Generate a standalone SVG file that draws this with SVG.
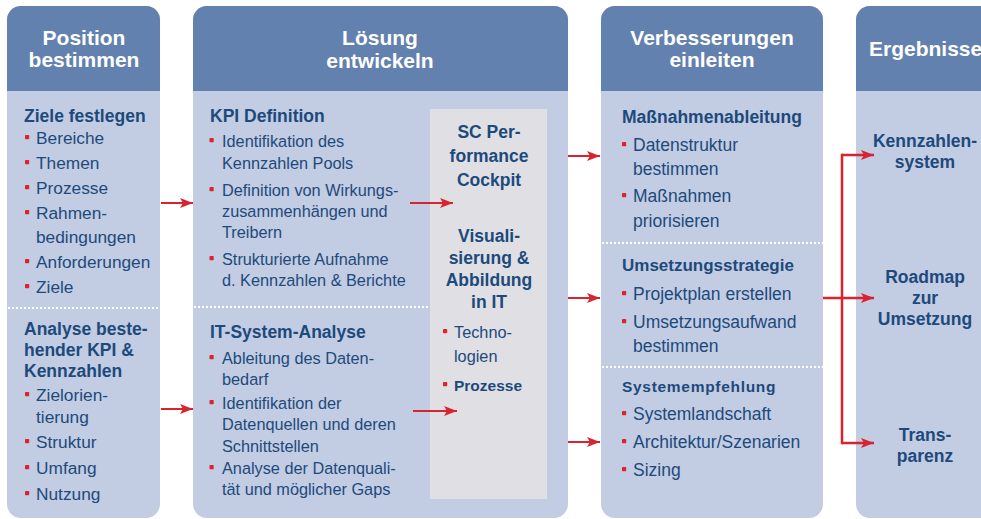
<svg xmlns="http://www.w3.org/2000/svg" width="981" height="519" viewBox="0 0 981 519">
  <style>
    .col { fill: #c2cce2; }
    .head { fill: #6281ae; }
    .grey { fill: #e0e0e4; }
    .sep { stroke: #ffffff; stroke-width: 2; stroke-dasharray: 2 2; fill: none; }
    .ht { font-family: "Liberation Sans", Arial, sans-serif; font-weight: bold; font-size: 21px; fill: #ffffff; text-anchor: middle; }
    .hd { font-family: "Liberation Sans", Arial, sans-serif; font-weight: bold; font-size: 17.5px; fill: #1d4a7c; }
    .hc { font-family: "Liberation Sans", Arial, sans-serif; font-weight: bold; font-size: 17.5px; fill: #1d4a7c; text-anchor: middle; }
    .t1 { font-family: "Liberation Sans", Arial, sans-serif; font-size: 17.3px; fill: #1d4a7c; }
    .t2 { font-family: "Liberation Sans", Arial, sans-serif; font-size: 16.3px; fill: #1d4a7c; }
    .t3 { font-family: "Liberation Sans", Arial, sans-serif; font-size: 17.5px; fill: #1d4a7c; }
    .bul { fill: #e0202c; }
    .arr { stroke: #d9232e; stroke-width: 2; fill: none; }
    .brk { stroke: #d9232e; stroke-width: 2.5; fill: none; }
  </style>
  <defs>
    <rect id="b" class="bul" x="-2" y="-2" width="4.2" height="4.2" rx="0.8"/>
    <marker id="ah" markerUnits="userSpaceOnUse" markerWidth="14" markerHeight="12" refX="13" refY="5" orient="auto">
      <path d="M0,0 L13,5 L0,10 L3,5 Z" fill="#d9232e"/>
    </marker>
  </defs>

  <!-- Column 1: Position bestimmen -->
  <g id="col-position">
    <rect class="col" x="7" y="6" width="153" height="512" rx="14"/>
    <path class="head" d="M7,91 V20 A14,14 0 0 1 21,6 H146 A14,14 0 0 1 160,20 V91 Z"/>
    <text class="ht" x="84" y="45">Position</text>
    <text class="ht" x="84" y="67">bestimmen</text>
    <line class="sep" x1="8" y1="308" x2="160" y2="308"/>
    <text class="hd" x="24" y="122">Ziele festlegen</text>
    <use href="#b" x="27" y="137"/><text class="t1" x="36" y="144">Bereiche</text>
    <use href="#b" x="27" y="162"/><text class="t1" x="36" y="169">Themen</text>
    <use href="#b" x="27" y="187"/><text class="t1" x="36" y="194">Prozesse</text>
    <use href="#b" x="27" y="212"/><text class="t1" x="36" y="219">Rahmen-</text>
    <text class="t1" x="36" y="243">bedingungen</text>
    <use href="#b" x="27" y="261"/><text class="t1" x="36" y="268">Anforderungen</text>
    <use href="#b" x="27" y="286"/><text class="t1" x="36" y="293">Ziele</text>
    <text class="hd" x="24" y="335">Analyse beste-</text>
    <text class="hd" x="24" y="356">hender KPI &amp;</text>
    <text class="hd" x="24" y="377">Kennzahlen</text>
    <use href="#b" x="27" y="394"/><text class="t1" x="36" y="401">Zielorien-</text>
    <text class="t1" x="36" y="423">tierung</text>
    <use href="#b" x="27" y="441"/><text class="t1" x="36" y="448">Struktur</text>
    <use href="#b" x="27" y="467"/><text class="t1" x="36" y="474">Umfang</text>
    <use href="#b" x="27" y="493"/><text class="t1" x="36" y="500">Nutzung</text>
  </g>

  <!-- Column 2: Lösung entwickeln -->
  <g id="col-loesung">
    <rect class="col" x="193" y="6" width="375" height="512" rx="14"/>
    <path class="head" d="M193,91 V20 A14,14 0 0 1 207,6 H554 A14,14 0 0 1 568,20 V91 Z"/>
    <text class="ht" x="380" y="45">Lösung</text>
    <text class="ht" x="380" y="68">entwickeln</text>
    <line class="sep" x1="194" y1="307" x2="430" y2="307"/>
    <text class="hd" x="210" y="122">KPI Definition</text>
    <use href="#b" x="211.5" y="140"/><text class="t2" x="222" y="147">Identifikation des</text>
    <text class="t2" x="222" y="169">Kennzahlen Pools</text>
    <use href="#b" x="211.5" y="189"/><text class="t2" x="222" y="196">Definition von Wirkungs-</text>
    <text class="t2" x="222" y="217">zusammenhängen und</text>
    <text class="t2" x="222" y="238">Treibern</text>
    <use href="#b" x="211.5" y="258"/><text class="t2" x="222" y="265">Strukturierte Aufnahme</text>
    <text class="t2" x="222" y="286">d. Kennzahlen &amp; Berichte</text>
    <text class="hd" x="210" y="338">IT-System-Analyse</text>
    <use href="#b" x="211.5" y="357"/><text class="t2" x="222" y="364">Ableitung des Daten-</text>
    <text class="t2" x="222" y="385">bedarf</text>
    <use href="#b" x="211.5" y="402"/><text class="t2" x="222" y="409">Identifikation der</text>
    <text class="t2" x="222" y="430">Datenquellen und deren</text>
    <text class="t2" x="222" y="452">Schnittstellen</text>
    <use href="#b" x="211.5" y="467"/><text class="t2" x="222" y="474">Analyse der Datenquali-</text>
    <text class="t2" x="222" y="495">tät und möglicher Gaps</text>
  </g>

  <!-- Cockpit panel inside column 2 -->
  <g id="cockpit">
    <rect class="grey" x="430" y="109" width="117" height="390"/>
    <text class="hc" x="489" y="138">SC Per-</text>
    <text class="hc" x="489" y="162">formance</text>
    <text class="hc" x="489" y="186">Cockpit</text>
    <text class="hc" x="489" y="242">Visuali-</text>
    <text class="hc" x="489" y="264">sierung &amp;</text>
    <text class="hc" x="489" y="286">Abbildung</text>
    <text class="hc" x="489" y="308">in IT</text>
    <use href="#b" x="445" y="331"/><text class="t2" x="454" y="338">Techno-</text>
    <text class="t2" x="454" y="362">logien</text>
    <use href="#b" x="445" y="384"/><text class="t2" x="454" y="391" style="font-weight:bold;font-size:15.5px">Prozesse</text>
  </g>

  <!-- Column 3: Verbesserungen einleiten -->
  <g id="col-verbesserungen">
    <rect class="col" x="601" y="6" width="222" height="512" rx="14"/>
    <path class="head" d="M601,91 V20 A14,14 0 0 1 615,6 H809 A14,14 0 0 1 823,20 V91 Z"/>
    <text class="ht" x="712" y="45">Verbesserungen</text>
    <text class="ht" x="712" y="67">einleiten</text>
    <line class="sep" x1="602" y1="243" x2="823" y2="243"/>
    <line class="sep" x1="602" y1="367" x2="823" y2="367"/>
    <text class="hd" x="622" y="123">Maßnahmenableitung</text>
    <use href="#b" x="624" y="144"/><text class="t3" x="633" y="151">Datenstruktur</text>
    <text class="t3" x="633" y="175">bestimmen</text>
    <use href="#b" x="624" y="195"/><text class="t3" x="633" y="202">Maßnahmen</text>
    <text class="t3" x="633" y="227">priorisieren</text>
    <text class="hd" x="622" y="271" style="font-size:17px">Umsetzungsstrategie</text>
    <use href="#b" x="624" y="293"/><text class="t3" x="633" y="300">Projektplan erstellen</text>
    <use href="#b" x="624" y="321"/><text class="t3" x="633" y="328">Umsetzungsaufwand</text>
    <text class="t3" x="633" y="352">bestimmen</text>
    <text class="hd" x="622" y="392" style="font-size:15.5px;letter-spacing:0.7px">Systemempfehlung</text>
    <use href="#b" x="624" y="413"/><text class="t3" x="633" y="420">Systemlandschaft</text>
    <use href="#b" x="624" y="441"/><text class="t3" x="633" y="448">Architektur/Szenarien</text>
    <use href="#b" x="624" y="469"/><text class="t3" x="633" y="476">Sizing</text>
  </g>

  <!-- Column 4: Ergebnisse -->
  <g id="col-ergebnisse">
    <rect class="col" x="856" y="6" width="160" height="512" rx="14"/>
    <path class="head" d="M856,91 V20 A14,14 0 0 1 870,6 H1002 A14,14 0 0 1 1016,20 V91 Z"/>
    <text class="ht" x="869" y="56" style="text-anchor:start">Ergebnisse</text>
    <text class="hc" x="925" y="147">Kennzahlen-</text>
    <text class="hc" x="925" y="168">system</text>
    <text class="hc" x="925" y="283">Roadmap</text>
    <text class="hc" x="925" y="304">zur</text>
    <text class="hc" x="925" y="325">Umsetzung</text>
    <text class="hc" x="925" y="441">Trans-</text>
    <text class="hc" x="925" y="462">parenz</text>
  </g>

  <!-- Connectors -->
  <g id="connectors">
    <line class="arr" x1="161" y1="203" x2="193" y2="203" marker-end="url(#ah)"/>
    <line class="arr" x1="161" y1="409" x2="193" y2="409" marker-end="url(#ah)"/>
    <line class="arr" x1="410" y1="203" x2="453" y2="203" marker-end="url(#ah)"/>
    <line class="arr" x1="413" y1="411" x2="457" y2="411" marker-end="url(#ah)"/>
    <line class="arr" x1="568" y1="156" x2="600" y2="156" marker-end="url(#ah)"/>
    <line class="arr" x1="568" y1="298" x2="600" y2="298" marker-end="url(#ah)"/>
    <line class="arr" x1="568" y1="442" x2="600" y2="442" marker-end="url(#ah)"/>
    <!-- bracket fanning out to the results -->
    <line class="brk" x1="842" y1="153.75" x2="842" y2="444.25"/>
    <line class="brk" x1="842" y1="155" x2="874" y2="155" marker-end="url(#ah)"/>
    <line class="brk" x1="823" y1="298" x2="874" y2="298" marker-end="url(#ah)"/>
    <line class="brk" x1="842" y1="443" x2="874" y2="443" marker-end="url(#ah)"/>
  </g>
</svg>
